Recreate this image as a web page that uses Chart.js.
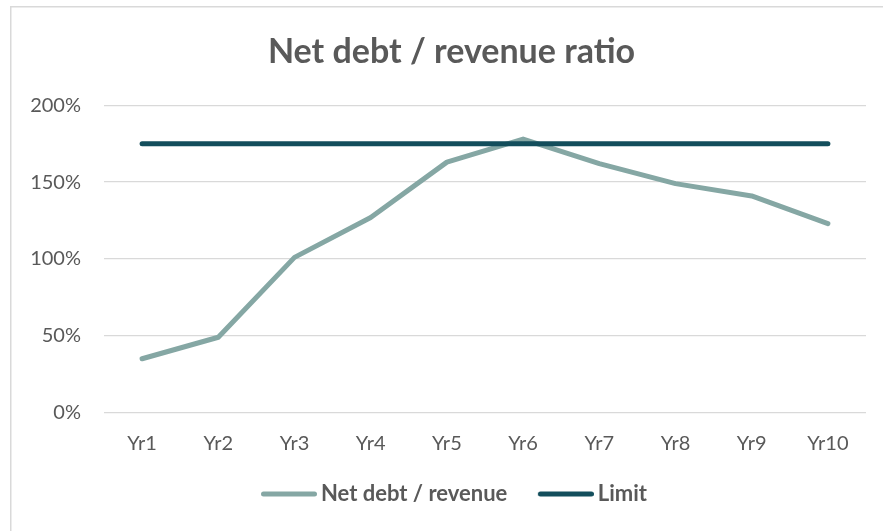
<!DOCTYPE html>
<html>
<head>
<meta charset="utf-8">
<script src="https://cdn.jsdelivr.net/npm/chart.js@4/dist/chart.umd.min.js"></script>
<style>
  html, body { margin: 0; padding: 0; background: #ffffff; overflow: hidden; }
  #wrap { width: 883px; height: 531px; position: relative; }
</style>
</head>
<body>
<div id="wrap"><canvas id="chart" width="883" height="531"></canvas></div>
<script>
// Years on the horizontal axis
const categories = ['Yr1', 'Yr2', 'Yr3', 'Yr4', 'Yr5', 'Yr6', 'Yr7', 'Yr8', 'Yr9', 'Yr10'];
// Net debt as a percentage of revenue
const netDebtRatio = [35, 49, 101, 127, 163, 178, 162, 149, 141, 123];
// Covenant limit, flat across all years
const limitRatio = [175, 175, 175, 175, 175, 175, 175, 175, 175, 175];
// Y axis range and step (percent)
const yTicks = { min: 0, max: 200, step: 50 };

const FONT = "Lato, 'Noto Sans', sans-serif";
const TEXT = '#595959';
const NET_COLOR = '#85a7a4';
const LIMIT_COLOR = '#134e5c';

// Legend swatch: a short rounded line sitting close to its label
function legendSwatch(color) {
  const c = document.createElement('canvas');
  c.width = 68;
  c.height = 8;
  const g = c.getContext('2d');
  g.strokeStyle = color;
  g.lineWidth = 5;
  g.lineCap = 'round';
  g.beginPath();
  g.moveTo(14.5, 4);
  g.lineTo(65.5, 4);
  g.stroke();
  return c;
}

// Light frame around the chart, open on the right and bottom edges
const framePlugin = {
  id: 'frame',
  beforeDraw(chart) {
    const ctx = chart.ctx;
    ctx.save();
    ctx.strokeStyle = '#d9d9d9';
    ctx.lineWidth = 1.5;
    ctx.beginPath();
    ctx.moveTo(10.75, chart.height);
    ctx.lineTo(10.75, 6.75);
    ctx.lineTo(chart.width, 6.75);
    ctx.stroke();
    ctx.restore();
  }
};

new Chart(document.getElementById('chart'), {
  type: 'line',
  data: {
    labels: categories,
    datasets: [
      {
        label: 'Net debt / revenue',
        data: netDebtRatio,
        borderColor: NET_COLOR,
        backgroundColor: NET_COLOR,
        borderWidth: 5,
        borderCapStyle: 'round',
        borderJoinStyle: 'round',
        pointRadius: 0,
        pointStyle: legendSwatch(NET_COLOR),
        tension: 0,
        order: 1
      },
      {
        label: 'Limit',
        data: limitRatio,
        borderColor: LIMIT_COLOR,
        backgroundColor: LIMIT_COLOR,
        borderWidth: 5,
        borderCapStyle: 'round',
        borderJoinStyle: 'round',
        pointRadius: 0,
        pointStyle: legendSwatch(LIMIT_COLOR),
        tension: 0,
        order: 0
      }
    ]
  },
  options: {
    responsive: false,
    animation: false,
    layout: { padding: { left: 20, right: 0, top: 0, bottom: 16 } },
    plugins: {
      title: {
        display: true,
        text: 'Net debt / revenue ratio',
        color: TEXT,
        font: { family: FONT, size: 34, weight: 'bold' },
        padding: { top: 31.5, bottom: 33 }
      },
      legend: {
        position: 'bottom',
        labels: {
          color: TEXT,
          font: { family: FONT, size: 22, weight: 'bold' },
          usePointStyle: true,
          pointStyleWidth: 54,
          boxHeight: 5,
          padding: 25.5,
          sort: (a, b) => a.datasetIndex - b.datasetIndex
        }
      },
      tooltip: { enabled: false }
    },
    scales: {
      x: {
        offset: true,
        grid: { display: false, drawTicks: false },
        border: { display: false },
        ticks: { color: TEXT, font: { family: FONT, size: 20 }, padding: 19 },
        afterFit: s => { s.height = 45; }
      },
      y: {
        position: 'left',
        min: yTicks.min,
        max: yTicks.max,
        grid: { color: '#d9d9d9', lineWidth: 1.3, drawTicks: false },
        border: { display: false },
        ticks: {
          stepSize: yTicks.step,
          color: TEXT,
          font: { family: FONT, size: 20 },
          padding: 23,
          callback: v => v + '%'
        },
        afterFit: s => { s.width = 84; }
      },
      yRight: {
        position: 'right',
        display: true,
        grid: { display: false },
        border: { display: false },
        ticks: { display: false },
        afterFit: s => { s.width = 17; }
      }
    }
  },
  plugins: [framePlugin]
});
</script>
</body>
</html>
